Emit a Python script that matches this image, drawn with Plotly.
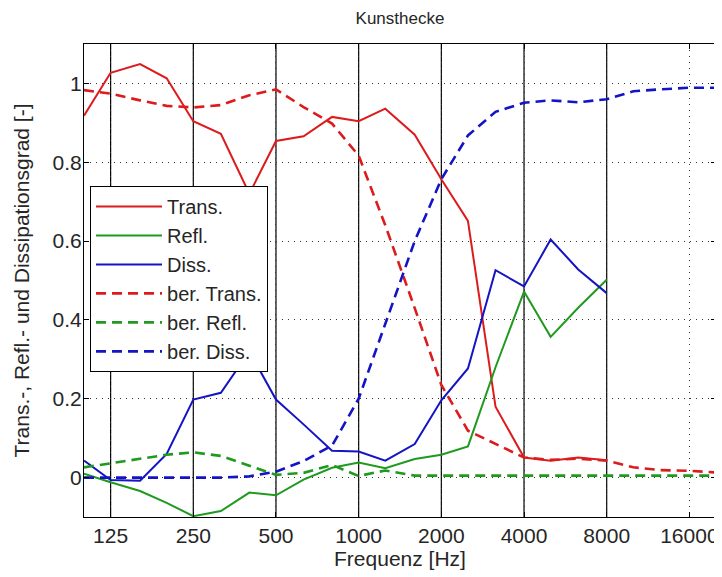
import plotly.graph_objects as go

# third-octave frequencies
freq_meas = [100, 125, 160, 200, 250, 315, 400, 500, 630, 800, 1000, 1250,
             1600, 2000, 2500, 3150, 4000, 5000, 6300, 8000]
freq_calc = [100, 125, 160, 200, 250, 315, 400, 500, 630, 800, 1000, 1250,
             1600, 2000, 2500, 3150, 4000, 5000, 6300, 8000, 10000, 12500,
             16000, 20000]

trans = [0.918, 1.027, 1.049, 1.013, 0.904, 0.872, 0.72, 0.854, 0.866, 0.915,
         0.904, 0.936, 0.870, 0.757, 0.651, 0.180, 0.051, 0.043, 0.051, 0.044]
refl = [0.010, -0.012, -0.034, -0.064, -0.098, -0.085, -0.038, -0.045, -0.005,
        0.025, 0.038, 0.024, 0.047, 0.058, 0.079, 0.280, 0.472, 0.357, 0.431, 0.502]
diss = [0.043, -0.006, -0.008, 0.060, 0.198, 0.215, 0.320, 0.198, 0.135, 0.068,
        0.066, 0.043, 0.085, 0.196, 0.277, 0.526, 0.485, 0.604, 0.528, 0.468]

ber_trans = [0.983, 0.974, 0.957, 0.943, 0.939, 0.945, 0.970, 0.985, 0.940,
             0.898, 0.817, 0.640, 0.430, 0.235, 0.119, 0.085, 0.051, 0.045,
             0.048, 0.043, 0.026, 0.019, 0.017, 0.013]
ber_refl = [0.026, 0.036, 0.047, 0.058, 0.064, 0.055, 0.030, 0.007, 0.012,
            0.032, 0.004, 0.018, 0.005, 0.005, 0.005, 0.005, 0.005, 0.005,
            0.005, 0.005, 0.005, 0.005, 0.005, 0.005]
ber_diss = [0.000, 0.000, 0.000, 0.000, 0.000, 0.000, 0.003, 0.015, 0.042,
            0.081, 0.200, 0.390, 0.600, 0.757, 0.868, 0.928, 0.951, 0.957,
            0.952, 0.960, 0.980, 0.985, 0.989, 0.989]

x_ticks = [125, 250, 500, 1000, 2000, 4000, 8000, 16000]
x_ticktext = ["125", "250", "500", "1000", "2000", "4000", "8000", "16000"]
octave_lines = [125, 250, 500, 1000, 2000, 4000, 8000]
y_ticks = [0, 0.2, 0.4, 0.6, 0.8, 1]

RED = "#dc1c1c"
GREEN = "#1f9a1f"
BLUE = "#1414c4"
DASH = "10px,6px"
TXT = "#262626"
FS = 21

fig = go.Figure()

# solid octave lines
for f in octave_lines:
    fig.add_shape(type="line", xref="x", yref="paper", x0=f, x1=f, y0=0, y1=1,
                  line=dict(color="black", width=1.2), layer="below")

series = [
    ("Trans.", freq_meas, trans, RED, "solid", 2),
    ("Refl.", freq_meas, refl, GREEN, "solid", 2),
    ("Diss.", freq_meas, diss, BLUE, "solid", 2),
    ("ber. Trans.", freq_calc, ber_trans, RED, DASH, 2.6),
    ("ber. Refl.", freq_calc, ber_refl, GREEN, DASH, 2.6),
    ("ber. Diss.", freq_calc, ber_diss, BLUE, DASH, 2.6),
]
for i, (name, xs, ys, col, dash, w) in enumerate(series):
    fig.add_trace(go.Scatter(x=xs, y=ys, mode="lines", name=name,
                             legendgroup=str(i),
                             line=dict(color=col, dash=dash, width=w)))

# the page body adds an 8px offset, so the figure is 8px smaller
fig.update_layout(
    width=714, height=569,
    margin=dict(l=76, r=6, t=36, b=60, autoexpand=False),
    paper_bgcolor="white", plot_bgcolor="white",
    font=dict(family="Liberation Sans, Arial, sans-serif", size=FS, color=TXT),
    title=dict(text="Kunsthecke", x=0.549, xanchor="center", y=0.982,
               yanchor="middle", font=dict(size=17, color=TXT)),
    showlegend=True,
    legend=dict(x=0.0095, y=0.70, xanchor="left", yanchor="top",
                bgcolor="white", bordercolor="black", borderwidth=1,
                traceorder="grouped", tracegroupgap=0, itemwidth=66,
                font=dict(size=20, color=TXT)),
    xaxis=dict(type="log", range=[2, 4.30103], tickvals=x_ticks,
               ticktext=x_ticktext, showgrid=True, gridcolor="#333",
               griddash="1px,5px", gridwidth=1, zeroline=False,
               showline=True, linecolor="black", linewidth=1, mirror="ticks",
               ticks="inside", ticklen=5, tickcolor="black", automargin=False,
               tickfont=dict(size=FS),
               title=dict(text="Frequenz [Hz]", standoff=5, font=dict(size=FS))),
    yaxis=dict(range=[-0.1, 1.1], tickvals=y_ticks, showgrid=True,
               gridcolor="#333", griddash="1px,5px", gridwidth=1, zeroline=False,
               showline=True, linecolor="black", linewidth=1, mirror="ticks",
               ticks="inside", ticklen=5, tickcolor="black", automargin=False,
               tickfont=dict(size=FS), ticklabelstandoff=-3,
               title=dict(text="Trans.-, Refl.- und Dissipationsgrad [-]",
                          standoff=17, font=dict(size=FS))),
)

fig.write_html("out.html")
